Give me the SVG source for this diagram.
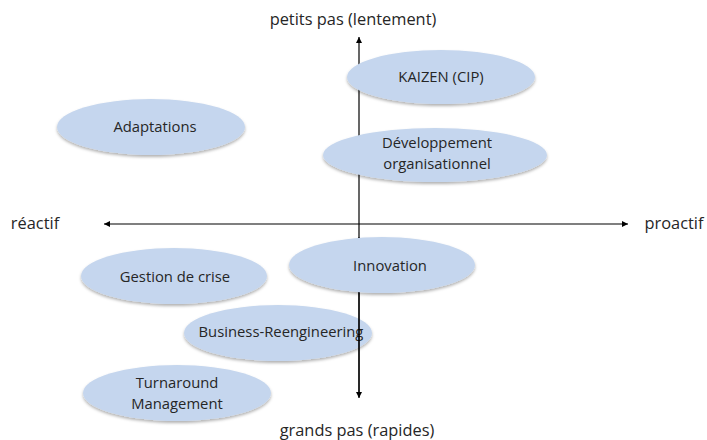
<svg xmlns="http://www.w3.org/2000/svg" width="707" height="440" viewBox="0 0 707 440">
<style>
text{font-family:"Open Sans","Liberation Sans",sans-serif;font-size:14.8px;fill:#262626;text-anchor:middle}
.ax{font-size:16.4px}
.n ellipse{fill:#c5d6ee;filter:url(#sh)}
.c line{stroke:#000;stroke-width:1.2}
</style>
<defs>
<marker id="ar" viewBox="0 0 10 10" refX="10" refY="5" markerWidth="6" markerHeight="6" orient="auto-start-reverse" markerUnits="userSpaceOnUse"><path d="M0,0L10,5L0,10z" fill="#000"/></marker>
<filter id="sh" x="-10%" y="-20%" width="120%" height="150%"><feDropShadow dx="0" dy="2" stdDeviation="1.5" flood-color="#000" flood-opacity="0.3"/></filter>
</defs>
<rect width="707" height="440" fill="#fff"/>
<g id="bre" class="n"><ellipse cx="278" cy="333" rx="94" ry="28"/><text x="281" y="337">Business-Reengineering</text></g>
<g class="c">
<line x1="359" y1="397" x2="359" y2="37" marker-end="url(#ar)"/>
<line x1="359" y1="237" x2="359" y2="398" marker-end="url(#ar)"/>
<line x1="104" y1="224" x2="628" y2="224" marker-start="url(#ar)" marker-end="url(#ar)"/>
</g>
<text class="ax" x="353" y="25">petits pas (lentement)</text>
<text class="ax" x="357" y="436">grands pas (rapides)</text>
<text class="ax" x="35" y="229">réactif</text>
<text class="ax" x="674" y="229">proactif</text>
<g id="kaizen" class="n"><ellipse cx="441" cy="77" rx="94" ry="27"/><text x="441" y="82">KAIZEN (CIP)</text></g>
<g id="dev" class="n"><ellipse cx="435" cy="155" rx="112" ry="27"/><text x="437" y="148">Développement</text><text x="437" y="169">organisationnel</text></g>
<g id="adapt" class="n"><ellipse cx="151" cy="127" rx="94" ry="28"/><text x="155" y="132">Adaptations</text></g>
<g id="innov" class="n"><ellipse cx="382" cy="265" rx="93" ry="28"/><text x="390" y="271">Innovation</text></g>
<g id="crise" class="n"><ellipse cx="174" cy="276" rx="93" ry="28"/><text x="175" y="282">Gestion de crise</text></g>
<g id="turn" class="n"><ellipse cx="177" cy="393" rx="94" ry="28"/><text x="177" y="388">Turnaround</text><text x="177" y="409">Management</text></g>
</svg>
